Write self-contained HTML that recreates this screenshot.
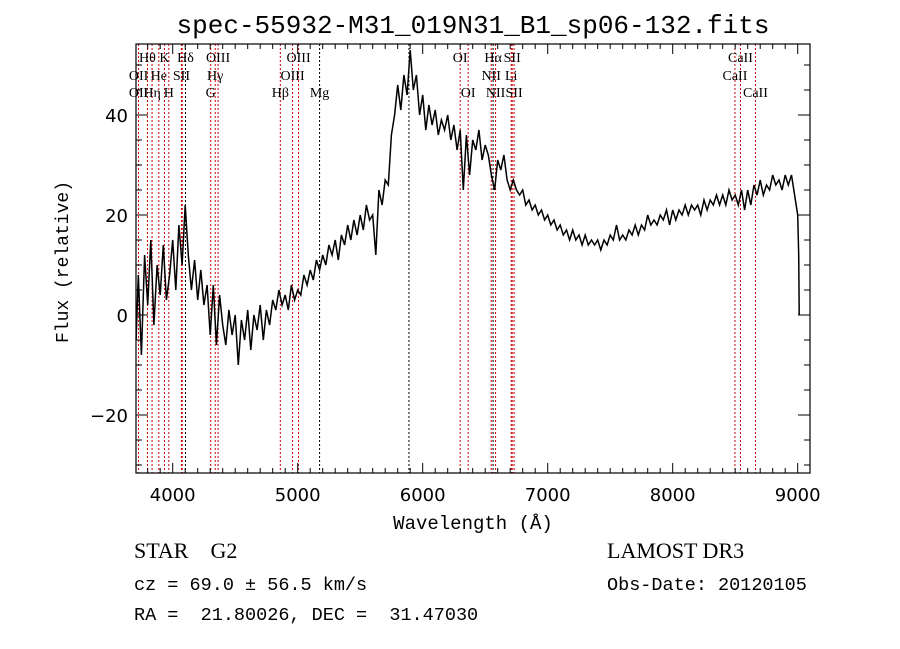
<!DOCTYPE html>
<html><head><meta charset="utf-8"><style>
body{margin:0;background:#fff;}
svg{display:block;font-family:"DejaVu Sans","Liberation Sans",sans-serif;}
.ser{font-family:"Liberation Serif",serif;}
.mono{font-family:"Liberation Mono",monospace;}
</style></head><body>
<svg id="chart" width="900" height="649" viewBox="0 0 900 649" xmlns="http://www.w3.org/2000/svg">
<rect width="900" height="649" fill="#fff"/>
<text class="mono" x="473" y="33" font-size="26" text-anchor="middle">spec-55932-M31_019N31_B1_sp06-132.fits</text>
<g id="lines"></g>
<g id="labels" class="ser" font-size="14"></g>
<path id="spec" fill="none" stroke="#000" stroke-width="1.5"/>
<rect x="136" y="44" width="674" height="429" fill="none" stroke="#000" stroke-width="1.2"/>
<g id="axes"></g>
<text class="mono" x="473" y="529" font-size="19" text-anchor="middle">Wavelength (Å)</text>
<text class="mono" x="0" y="0" font-size="18" text-anchor="middle" transform="translate(68,262) rotate(-90)">Flux (relative)</text>
<text class="ser" x="134" y="558" font-size="22" xml:space="preserve">STAR    G2</text>
<text class="ser" x="607" y="558" font-size="22">LAMOST DR3</text>
<text class="mono" x="134" y="590" font-size="18.5" xml:space="preserve">cz = 69.0 ± 56.5 km/s</text>
<text class="mono" x="607" y="590" font-size="18.5">Obs-Date: 20120105</text>
<text class="mono" x="134" y="620" font-size="18.5" xml:space="preserve">RA =  21.80026, DEC =  31.47030</text>
</svg>
<script>
const waveStart = 3700, waveStep = 25;
const flux = [
-5,8,-8,12, 2,15,-2,10, 4,14,3,8, 15,5,18,10, 22,12,5,11, 3,9,2,6, -4,6,-6,4,
-2,-6,1,-4, 0,-10,-1,-5, 1,-7,0,-3, 2,-5,1,-2, 3,1,5,2, 4,1,6,3, 5,4,8,6,
9,7,11,9, 12,10,14,12, 15,11,16,14, 18,15,19,16, 20,17,22,19, 20,12,25,22,
27,26,36,40, 46,41,48,44, 53,45,48,40, 44,37,42,38, 41,36,39,37, 40,35,38,33,
37,25,36,28, 35,33,37,31, 34,32,28,25, 31,29,32,27, 25,27,25,24, 25,22,23,21,
22,20,21,19, 20,18,19,17, 18,16,17,15, 17,15,16,14, 16,14,15,14, 15,13,15,14,
16,15,18,15, 16,15,17,16, 18,16,18,17, 20,18,19,18, 20,19,21,18, 21,19,21,20,
22,20,22,21, 22,20,23,21, 23,22,24,22, 24,22,25,23, 24,22,25,21, 25,22,26,24,
27,24,26,25, 28,26,27,25, 28,26,28,24, 20];
const tailWaves = [9008, 9010, 9012];
const tailFlux = [12, 5, 0];
const lineWaves = [3727,3798,3835,3889,3934,3969,4070,4076,4102,4304,4340,4363,4861,4959,5007,5175,5890,6300,6364,6548,6563,6583,6708,6716,6731,8498,8542,8662];
const blackLines = [4102,5175,5890,6563];
const labelText = ["Hθ","K","Hδ","OIII","OIII","OI","Hα","SII","CaII",
 "OII","He","SII","Hγ","OIII","NII","Li","CaII",
 "OII","Hη","H","G","Hβ","Mg","OI","NII","SII","CaII"];
const labelWave = [3798,3934,4102,4363,5007,6300,6563,6716,8542,
 3727,3889,4070,4340,4959,6548,6708,8498,
 3727,3835,3969,4304,4861,5175,6364,6583,6731,8662];
const labelRow = [0,0,0,0,0,0,0,0,0, 1,1,1,1,1,1,1,1, 2,2,2,2,2,2,2,2,2,2];
const xTicks = [4000,5000,6000,7000,8000,9000];
const yTicks = [-20,0,20,40];

const X0=136,X1=810,Y0=44,Y1=473;
const xs = w => 172.7 + (w-4000)*0.125;
const ys = f => 315 - f*5;
const NS="http://www.w3.org/2000/svg";
function mk(tag, attrs, parent){const e=document.createElementNS(NS,tag);for(const k in attrs)e.setAttribute(k,attrs[k]);parent.appendChild(e);return e;}

let d="";
flux.forEach((f,i)=>{const w=waveStart+i*waveStep;d+=(i?"L":"M")+xs(Math.max(w,3707)).toFixed(1)+","+ys(f).toFixed(1);});
tailWaves.forEach((w,i)=>{d+="L"+xs(w).toFixed(1)+","+ys(tailFlux[i]).toFixed(1);});
document.getElementById("spec").setAttribute("d",d);

const gl=document.getElementById("lines");
lineWaves.forEach(w=>{
 const l=mk("line",{x1:xs(w),x2:xs(w),y1:Y0,y2:Y1,stroke:blackLines.includes(w)?"#000":"#c00","stroke-width":1,"stroke-dasharray":"2,2"},gl);
 
 
});
const glb=document.getElementById("labels");
const rowY=[62,80,97];
labelText.forEach((t,i)=>{
 const e=mk("text",{x:xs(labelWave[i]),y:rowY[labelRow[i]],"text-anchor":"middle"},glb);
 e.textContent=t;
 
 
});

const ga=document.getElementById("axes");
for(let w=3800;w<=9000;w+=100){
 const major=w%1000===0, len=major?10:5;
 mk("line",{x1:xs(w),x2:xs(w),y1:Y1,y2:Y1-len,stroke:"#000"},ga);
 mk("line",{x1:xs(w),x2:xs(w),y1:Y0,y2:Y0+len,stroke:"#000"},ga);
}
for(let f=-30;f<=50;f+=5){
 const major=f%20===0, len=major?12:6;
 mk("line",{x1:X0,x2:X0+len,y1:ys(f),y2:ys(f),stroke:"#000"},ga);
 mk("line",{x1:X1,x2:X1-len,y1:ys(f),y2:ys(f),stroke:"#000"},ga);
}
xTicks.forEach(w=>{
 const t=mk("text",{x:xs(w),y:Y1+28,"font-size":18,"text-anchor":"middle"},ga);
 t.textContent=w;
 
 
});
yTicks.forEach(f=>{
 const t=mk("text",{x:X0-8,y:ys(f)+7,"font-size":18,"text-anchor":"end"},ga);
 t.textContent=f<0?"\u2212"+(-f):f;
 
 
});
</script>
</body></html>
